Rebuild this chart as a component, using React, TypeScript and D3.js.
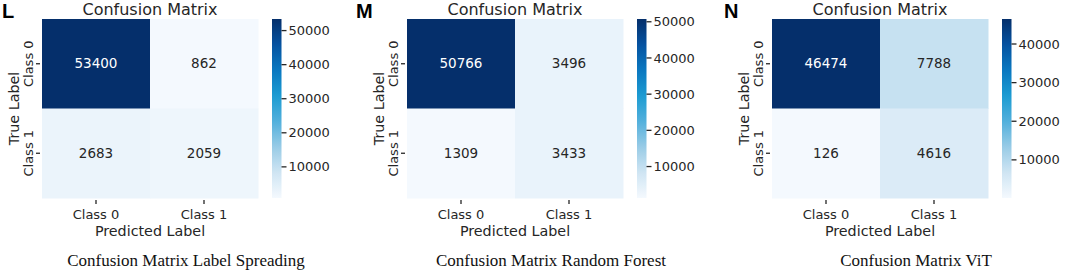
import React from "react";
import * as d3 from "d3";

const panelLetters = ["L", "M", "N"];
const captions = [
  "Confusion Matrix Label Spreading",
  "Confusion Matrix Random Forest",
  "Confusion Matrix ViT",
];
const classLabels = ["Class 0", "Class 1"];
const matrixLabelSpreading = [
  [53400, 862],
  [2683, 2059],
];
const matrixRandomForest = [
  [50766, 3496],
  [1309, 3433],
];
const matrixViT = [
  [46474, 7788],
  [126, 4616],
];
const matrices = [matrixLabelSpreading, matrixRandomForest, matrixViT];

const W = 1065;
const H = 273;
const PANEL_STEP = 365;
const HM_LEFT = 42;
const HM_TOP = 19;
const HM_W = 216;
const HM_H = 179;
const CB_X = 230;
const CB_W = 9.5;
const letterX = [2, 356, 724];
const SANS = "'DejaVu Sans', sans-serif";
const SERIF = "'Liberation Serif', 'Times New Roman', serif";
const DARK = "#262626";

const cmap = d3.piecewise(d3.interpolateRgb, [
  "#f4f9fe",
  "#cfe5f3",
  "#98cbe6",
  "#52b0dc",
  "#1c9bd2",
  "#0a78c0",
  "#0552a0",
  "#052f6b",
]);

function Panel({ idx }: { idx: number }) {
  const m = matrices[idx];
  const flat = m.flat();
  const mn = d3.min(flat) as number;
  const mx = d3.max(flat) as number;
  const color = d3.scaleSequential(cmap).domain([mn, mx]);
  const ox = idx * PANEL_STEP + HM_LEFT;
  const x = d3.scaleBand<string>().domain(classLabels).range([ox, ox + HM_W]);
  const y = d3.scaleBand<string>().domain(classLabels).range([HM_TOP, HM_TOP + HM_H]);
  const cbY = d3.scaleLinear().domain([mn, mx]).range([HM_TOP + HM_H, HM_TOP]);
  const cbTicks = cbY.ticks(5);
  const gid = `cbgrad${idx}`;
  const stops = d3.range(0, 1.0001, 0.02);
  const cx = ox + HM_W / 2;
  const cbx = ox + CB_X;
  return (
    <g>
      <defs>
        <linearGradient id={gid} x1="0" y1="1" x2="0" y2="0">
          {stops.map((t, i) => (
            <stop key={i} offset={t} stopColor={cmap(t)} />
          ))}
        </linearGradient>
      </defs>
      <text
        x={letterX[idx]}
        y={18}
        fontFamily="'Liberation Sans', Arial, sans-serif"
        fontWeight="bold"
        fontSize={20}
        fill="#000"
      >
        {panelLetters[idx]}
      </text>
      <text x={cx} y={15} textAnchor="middle" fontFamily={SANS} fontSize={16} fill={DARK}>
        Confusion Matrix
      </text>
      {m.map((row, r) =>
        row.map((v, c) => {
          const fill = color(v);
          const lum = d3.hsl(fill).l;
          const bx = x(classLabels[c]) as number;
          const by = y(classLabels[r]) as number;
          return (
            <g key={`${r}-${c}`}>
              <rect
                x={bx}
                y={by}
                width={x.bandwidth() + 0.5}
                height={y.bandwidth() + 0.5}
                fill={fill}
              />
              <text
                x={bx + x.bandwidth() / 2}
                y={by + y.bandwidth() / 2}
                dy="0.35em"
                textAnchor="middle"
                fontFamily={SANS}
                fontSize={13.5}
                fill={lum < 0.45 ? "#ffffff" : DARK}
              >
                {v}
              </text>
            </g>
          );
        })
      )}
      {classLabels.map((lab) => {
        const ty = (y(lab) as number) + y.bandwidth() / 2;
        return (
          <g key={`y-${lab}`}>
            <line x1={ox - 6} x2={ox - 2} y1={ty} y2={ty} stroke={DARK} strokeWidth={1.3} />
            <text
              transform={`translate(${ox - 9},${ty}) rotate(-90)`}
              textAnchor="middle"
              fontFamily={SANS}
              fontSize={13}
              fill={DARK}
            >
              {lab}
            </text>
          </g>
        );
      })}
      <text
        transform={`translate(${ox - 23},${HM_TOP + HM_H / 2}) rotate(-90)`}
        textAnchor="middle"
        fontFamily={SANS}
        fontSize={14.3}
        fill={DARK}
      >
        True Label
      </text>
      {classLabels.map((lab) => {
        const tx = (x(lab) as number) + x.bandwidth() / 2;
        return (
          <g key={`x-${lab}`}>
            <line
              x1={tx}
              x2={tx}
              y1={HM_TOP + HM_H + 2}
              y2={HM_TOP + HM_H + 6}
              stroke={DARK}
              strokeWidth={1.3}
            />
            <text x={tx} y={219} textAnchor="middle" fontFamily={SANS} fontSize={13} fill={DARK}>
              {lab}
            </text>
          </g>
        );
      })}
      <text x={cx} y={236} textAnchor="middle" fontFamily={SANS} fontSize={14.3} fill={DARK}>
        Predicted Label
      </text>
      <rect x={cbx} y={HM_TOP} width={CB_W} height={HM_H} fill={`url(#${gid})`} />
      {cbTicks.map((t) => (
        <g key={`cb-${t}`}>
          <line
            x1={cbx + CB_W}
            x2={cbx + CB_W + 5}
            y1={cbY(t)}
            y2={cbY(t)}
            stroke={DARK}
            strokeWidth={1.3}
          />
          <text
            x={cbx + CB_W + 7}
            y={cbY(t)}
            dy="0.35em"
            fontFamily={SANS}
            fontSize={13}
            fill={DARK}
          >
            {t}
          </text>
        </g>
      ))}
      <text x={ox + 144} y={266} textAnchor="middle" fontFamily={SERIF} fontSize={17} fill="#111">
        {captions[idx]}
      </text>
    </g>
  );
}

export default function App() {
  return (
    <svg
      width={W}
      height={H}
      viewBox={`0 0 ${W} ${H}`}
      style={{ position: "absolute", left: 0, top: 0, background: "#fff" }}
    >
      {matrices.map((_, i) => (
        <Panel key={i} idx={i} />
      ))}
    </svg>
  );
}
